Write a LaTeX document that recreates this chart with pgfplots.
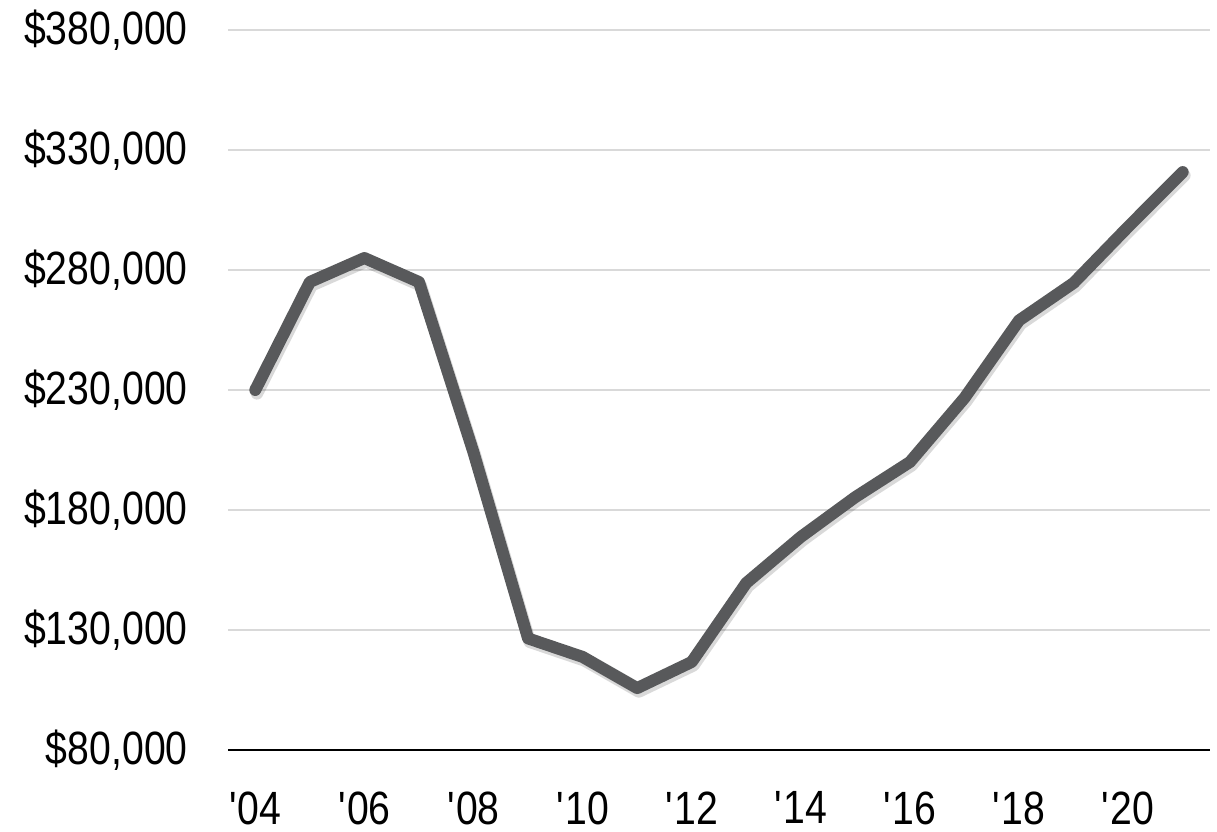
\documentclass[border=0pt]{standalone}
\usepackage{fontspec}
\setmainfont{Liberation Sans}[FakeStretch=0.84]
\usepackage{pgfplots}
\pgfplotsset{compat=1.18}

\definecolor{linegray}{HTML}{58595B}
\definecolor{gridgray}{HTML}{D9D9D9}

\begin{document}
\begin{tikzpicture}
\begin{axis}[
    scale only axis,
    width=353.5pt, height=259.2pt,
    xmin=2003.5, xmax=2021.5,
    ymin=80000, ymax=380000,
    axis x line*=bottom,
    axis y line*=left,
    x axis line style={black, line width=0.8pt, -},
    y axis line style={draw=none},
    ymajorgrids,
    grid style={gridgray, line width=0.7pt},
    major tick length=0pt,
    scaled y ticks=false,
    xtick={2004,2006,...,2020},
    xticklabels={\textquotesingle04,\textquotesingle06,\textquotesingle08,\textquotesingle10,\textquotesingle12,\textquotesingle14,\textquotesingle16,\textquotesingle18,\textquotesingle20},
    ytick={80000,130000,...,380000},
    yticklabels={{\$80,000},{\$130,000},{\$180,000},{\$230,000},{\$280,000},{\$330,000},{\$380,000}},
    ticklabel style={font=\fontsize{16.8}{18}\selectfont},
    x tick label style={yshift=-11.5pt},
    y tick label style={anchor=east, xshift=-11pt},
    clip=false,
]
\addplot[linegray, line width=4.3pt, line cap=round, line join=round,
  preaction={draw=black, opacity=0.15, line width=4.5pt,
             transform canvas={xshift=0.6pt, yshift=-1.2pt}}]
  coordinates {
  (2004,230000) (2005,275000) (2006,285000) (2007,275000) (2008,204000)
  (2009,126500) (2010,118800) (2011,105800) (2012,116700) (2013,149600)
  (2014,168800) (2015,185400) (2016,200000) (2017,226700) (2018,259000)
  (2019,274600) (2020,298000) (2021,320800)
  };
\end{axis}
\pgfresetboundingbox
\path[use as bounding box] ([shift={(-82.08pt,-29.16pt)}]current axis.south west)
  rectangle ([shift={(2.52pt,10.8pt)}]current axis.north east);
\end{tikzpicture}
\end{document}
